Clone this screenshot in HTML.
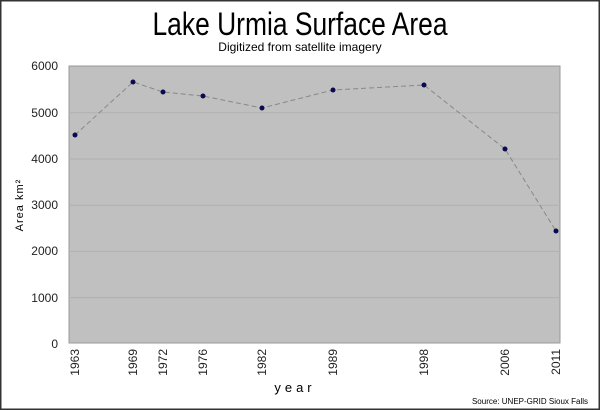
<!DOCTYPE html><html><head><style>body{margin:0;background:#fff}svg{display:block}</style></head><body>
<svg width="600" height="410" xmlns="http://www.w3.org/2000/svg" font-family="Liberation Sans, sans-serif">
<rect x="0.5" y="0.5" width="599" height="409" fill="#fff" stroke="#333" stroke-width="2"/>
<text x="300" y="35" text-anchor="middle" font-size="32" textLength="295" lengthAdjust="spacingAndGlyphs" fill="#000">Lake Urmia Surface Area</text>
<text x="300" y="51" text-anchor="middle" font-size="12" fill="#000">Digitized from satellite imagery</text>
<rect x="69" y="66" width="491" height="277" fill="#c0c0c0" stroke="#999"/>
<g stroke="#b0b0b0" stroke-width="1">
<line x1="69" x2="560" y1="112.8" y2="112.8"/><line x1="69" x2="560" y1="159" y2="159"/><line x1="69" x2="560" y1="205.2" y2="205.2"/><line x1="69" x2="560" y1="251.4" y2="251.4"/><line x1="69" x2="560" y1="297.6" y2="297.6"/></g>
<g font-size="12" fill="#222" text-anchor="end">
<text x="58" y="70">6000</text><text x="58" y="117">5000</text><text x="58" y="163">4000</text><text x="58" y="209">3000</text><text x="58" y="255">2000</text><text x="58" y="302">1000</text><text x="58" y="348">0</text></g>
<text transform="translate(23,205) rotate(-90)" text-anchor="middle" font-size="11" letter-spacing="1">Area km²</text>
<polyline fill="none" stroke="#888" stroke-dasharray="5,3" points="75,135 133,82 163,92 203,96 262,108 333,90 424,85 505,149 556,231"/>
<g fill="#0a0a50">
<circle cx="75" cy="135" r="2.5"/><circle cx="133" cy="82" r="2.5"/><circle cx="163" cy="92" r="2.5"/><circle cx="203" cy="96" r="2.5"/><circle cx="262" cy="108" r="2.5"/><circle cx="333" cy="90" r="2.5"/><circle cx="424" cy="85" r="2.5"/><circle cx="505" cy="149" r="2.5"/><circle cx="556" cy="231" r="2.5"/></g>
<g font-size="12" fill="#222" text-anchor="end">
<text transform="translate(79,349) rotate(-90)">1963</text>
<text transform="translate(137,349) rotate(-90)">1969</text>
<text transform="translate(167,349) rotate(-90)">1972</text>
<text transform="translate(207,349) rotate(-90)">1976</text>
<text transform="translate(266,349) rotate(-90)">1982</text>
<text transform="translate(337,349) rotate(-90)">1989</text>
<text transform="translate(428,349) rotate(-90)">1998</text>
<text transform="translate(509,349) rotate(-90)">2006</text>
<text transform="translate(560,349) rotate(-90)">2011</text></g>
<text x="295" y="392" text-anchor="middle" font-size="13" letter-spacing="4">year</text>
<text x="588" y="404" text-anchor="end" font-size="8">Source: UNEP-GRID Sioux Falls</text>
</svg></body></html>
